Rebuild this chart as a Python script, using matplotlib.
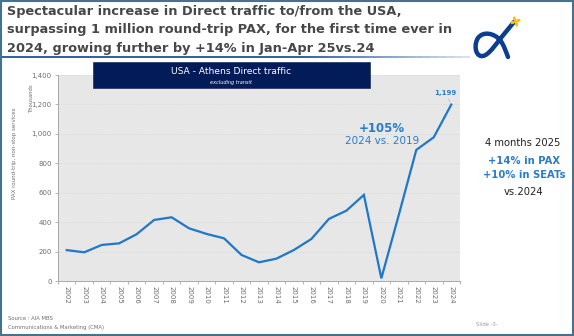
import matplotlib
matplotlib.use('Agg')
import matplotlib.pyplot as plt
from matplotlib.path import Path
from matplotlib.patches import PathPatch, Rectangle
import numpy as np

# Direct round-trip passengers USA <-> Athens, thousands
years = [str(y) for y in range(2002, 2025)]
pax = [210, 195, 245, 256, 318, 415, 433, 358, 320, 290, 177, 127,
       152, 211, 286, 422, 478, 585, 18, 450, 891, 977, 1199]
yticks = [0, 200, 400, 600, 800, 1000, 1200, 1400]

W, H = 574, 336
blue_line = '#1f77c9'
blue_txt = '#2a7cc7'
navy = '#021c5a'
grey_txt = '#6e6e6e'

fig = plt.figure(figsize=(W / 100, H / 100), dpi=100)
fig.patch.set_facecolor('white')

# chart area
ax = fig.add_axes([58 / W, 1 - 281 / H, (460 - 58) / W, (281 - 75) / H])
ax.set_facecolor('#e7e7e7')
x = np.arange(len(years))
ax.plot(x, pax, color=blue_line, lw=1.6, solid_joinstyle='miter', zorder=3)
ax.set_xlim(-0.5, len(years) - 0.5)
ax.set_ylim(0, 1400)
ax.set_yticks(yticks)
ax.set_yticklabels([f'{v:,}' for v in yticks])
ax.set_xticks(x)
ax.set_xticklabels(years, rotation=270)
ax.set_xticks(np.arange(-0.5, len(years)), minor=True)
ax.tick_params(axis='x', which='major', length=0, pad=3.5, labelsize=5, labelcolor=grey_txt)
ax.tick_params(axis='x', which='minor', length=2.5, color='#a8a8a8', width=0.6)
ax.tick_params(axis='y', length=2.5, color='#a8a8a8', width=0.6, pad=2,
               labelsize=5, labelcolor=grey_txt)
ax.yaxis.grid(True, color='#d2d2d2', ls=(0, (1, 2)), lw=0.6)
ax.set_axisbelow(True)
for s in ['top', 'right']:
    ax.spines[s].set_visible(False)
for s in ['left', 'bottom']:
    ax.spines[s].set_color('#a8a8a8')
    ax.spines[s].set_linewidth(0.7)

ax.annotate(f'{pax[-1]:,}', xy=(len(years) - 1, pax[-1]), xytext=(-4, 6),
            textcoords='offset points', ha='center', va='bottom',
            fontsize=5, fontweight='bold', color=blue_txt,
            arrowprops=dict(arrowstyle='-', color='#b0b0b0', lw=0.5,
                            shrinkA=0, shrinkB=2))

# overlay in pixel coordinates for the slide furniture
ov = fig.add_axes([0, 0, 1, 1], zorder=5)
ov.set_xlim(0, W)
ov.set_ylim(H, 0)
ov.axis('off')
ov.patch.set_alpha(0)

# slide frame
ov.add_patch(Rectangle((0.8, 0.8), W - 2.2, H - 2.2, fill=False,
                       ec='#46728e', lw=1.5))

# headline
title_lines = ['Spectacular increase in Direct traffic to/from the USA,',
               'surpassing 1 million round-trip PAX, for the first time ever in',
               '2024, growing further by +14% in Jan-Apr 25vs.24']
for i, line in enumerate(title_lines):
    ov.text(7, 15 + i * 18.5, line, fontsize=9.3, fontweight='bold',
            color='#474747', va='baseline', ha='left')

# fading underline below headline
xs = np.linspace(2, 470, 60)
for j in range(len(xs) - 1):
    a = 1.0 if xs[j] < 300 else max(0.15, 1 - (xs[j] - 300) / 200)
    ov.plot(xs[j:j + 2], [57, 57], color='#2c5fa8', lw=1.4, alpha=a,
            solid_capstyle='butt')

# alpha-shaped logo with a little plane
verts = [(514, 22), (500, 39),
         (492, 50), (486, 57), (481, 56),
         (475, 55), (474, 44), (478, 38),
         (483, 31), (494, 33), (500, 40),
         (504, 45), (506, 52), (508, 57)]
codes = [Path.MOVETO, Path.LINETO] + [Path.CURVE4] * 12
ov.add_patch(PathPatch(Path(verts, codes), fill=False, ec='#0b3d91', lw=3.2,
                       capstyle='round'))
ov.plot([515], [21], marker=(4, 2, 20), ms=7, mew=1.6, color='#f4c20d')

# navy chart header
ov.add_patch(Rectangle((93, 62), 277, 26, fc=navy, ec='#203060', lw=0.5))
ov.text(231.5, 72, 'USA - Athens Direct traffic', color='white',
        fontsize=6.6, ha='center', va='center')
ov.text(231.5, 82.5, 'excluding transit', color='white', fontsize=3.6,
        style='italic', ha='center', va='center')

# axis captions
ov.text(31, 98, 'Thousands', rotation=90, fontsize=3.8, color=grey_txt,
        ha='center', va='center')
ov.text(15, 153, 'PAX round-trip, non-stop services', rotation=90,
        fontsize=4, color=grey_txt, ha='center', va='center')

# growth callouts
ov.text(382, 128, '+105%', fontsize=8.5, fontweight='bold', color=blue_txt,
        ha='center', va='center')
ov.text(382, 141, '2024 vs. 2019', fontsize=7.5, color=blue_txt,
        ha='center', va='center')
ov.text(523, 143, '4 months 2025', fontsize=7.2, color='#222222',
        ha='center', va='center')
ov.text(524, 161, '+14% in PAX', fontsize=7.2, fontweight='bold',
        color=blue_txt, ha='center', va='center')
ov.text(524, 175, '+10% in SEATs', fontsize=7.2, fontweight='bold',
        color=blue_txt, ha='center', va='center')
ov.text(524, 192, 'vs.2024', fontsize=7.2, color='#222222',
        ha='center', va='center')

# footer
ov.text(8, 319, 'Source : AIA MBS', fontsize=3.8, color=grey_txt,
        ha='left', va='center')
ov.text(8, 327, 'Communications & Marketing (CMA)', fontsize=3.8,
        color=grey_txt, ha='left', va='center')
ov.text(487, 324, 'Slide -3-', fontsize=3.8, color='#9a9a9a',
        ha='center', va='center')

fig.savefig('out.png', dpi=100, facecolor='white')
